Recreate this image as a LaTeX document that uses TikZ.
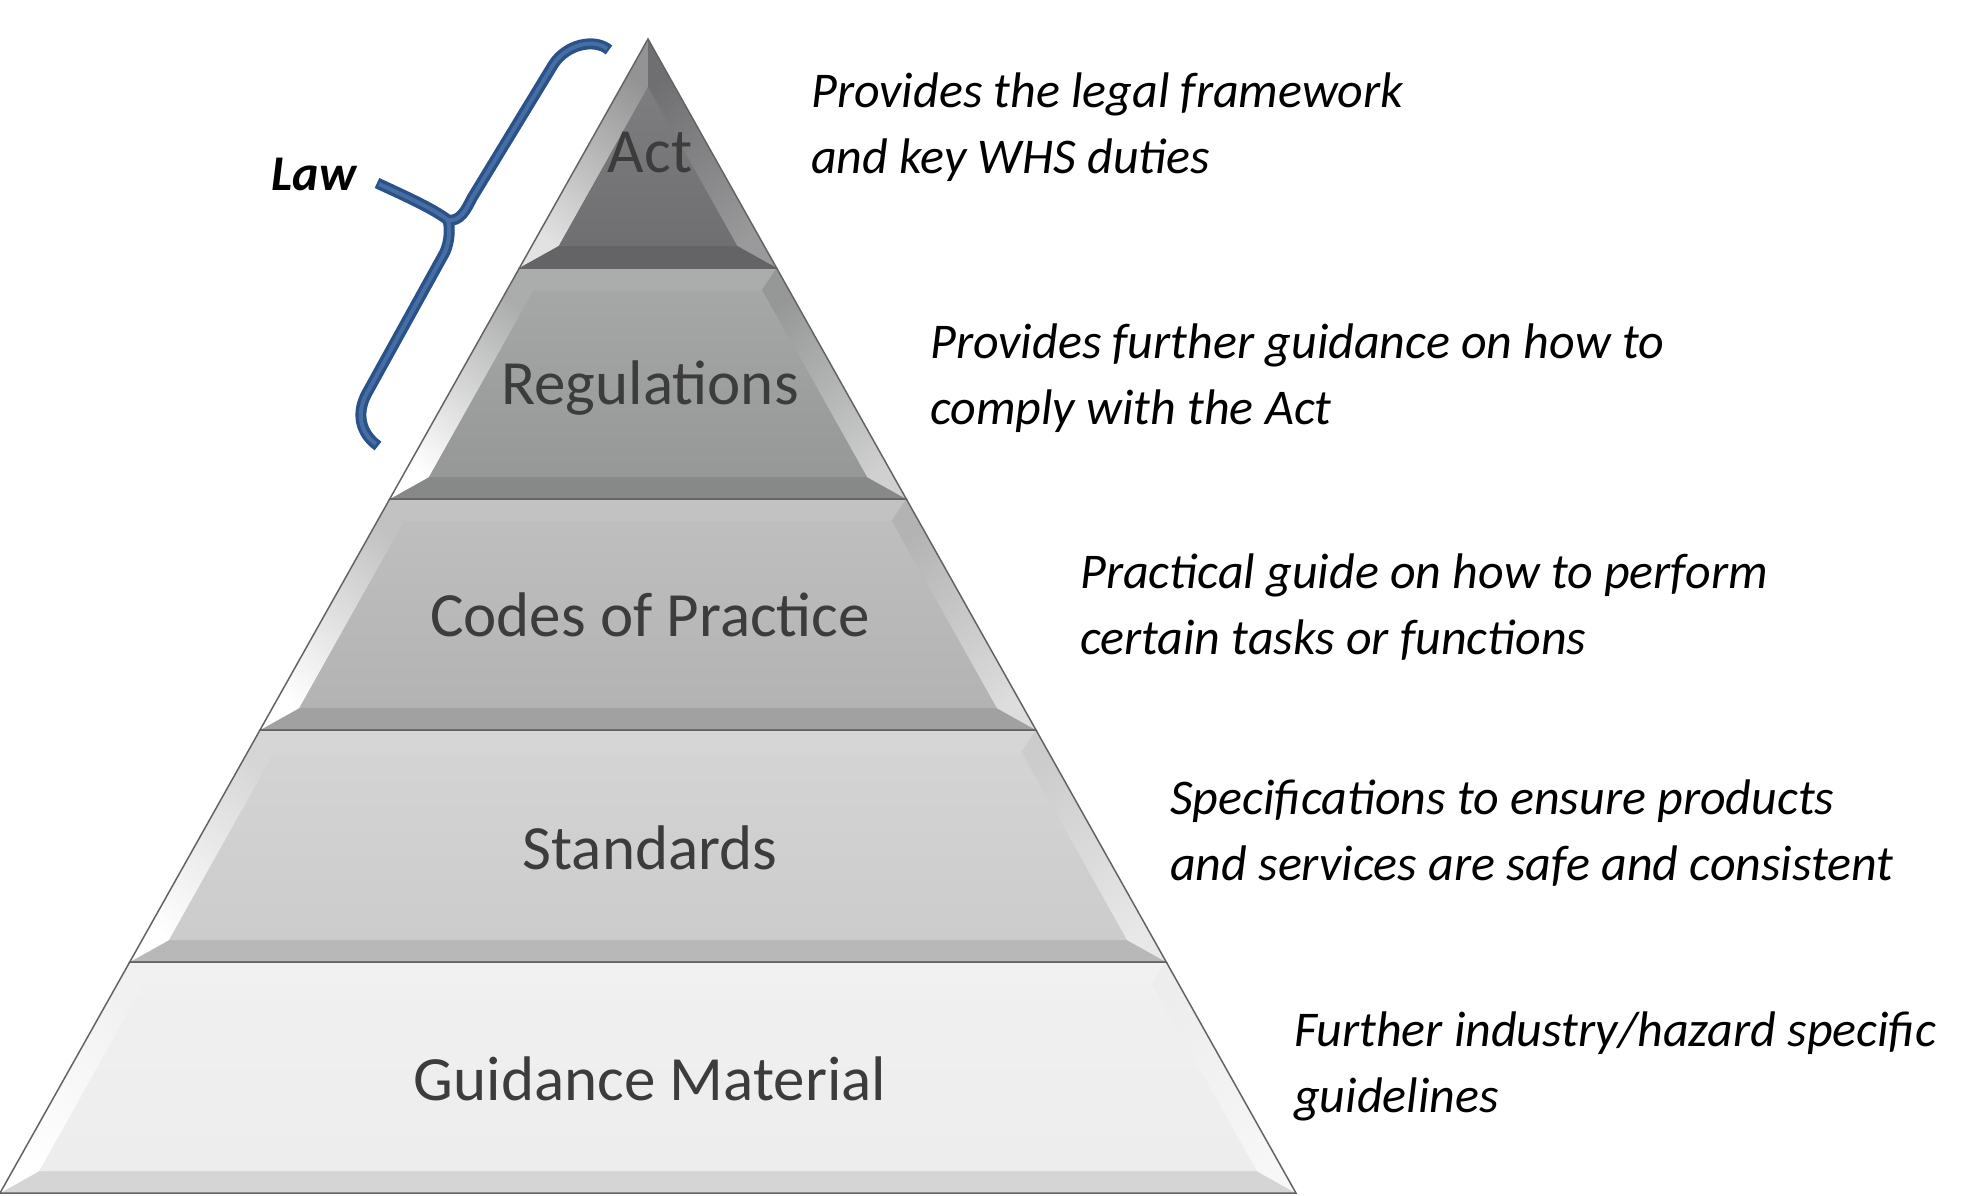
\documentclass[tikz,border=0pt]{standalone}
\usepackage{fontspec}
\setmainfont{Carlito}

\definecolor{actgray}{RGB}{111,111,113}
\definecolor{reggray}{RGB}{150,151,151}
\definecolor{codegray}{RGB}{178,179,178}
\definecolor{stdgray}{RGB}{204,204,204}
\definecolor{guidegray}{RGB}{237,237,237}
\definecolor{labelgray}{RGB}{60,60,60}
\definecolor{edgegray}{RGB}{100,100,100}
\definecolor{lawblue}{RGB}{40,82,136}
\definecolor{lawlight}{RGB}{70,110,165}

\tikzset{
	tierlabel/.style={inner sep=0, anchor=base, text=labelgray, font=\fontsize{63}{76}\selectfont},
	tiernote/.style={inner sep=0, anchor=base west, align=left, font=\fontsize{50}{66}\selectfont\itshape},
	rim/.style={draw=edgegray, line width=1.5}
}

\begin{document}
\begin{tikzpicture}[x=1pt,y=-1pt]
	
	\useasboundingbox (0,0) rectangle (1982,1195);
	
	% top tier (triangle)
	\coordinate (apex) at (648,39);
	\coordinate (aBL) at (519.4,268);
	\coordinate (aBR) at (776.6,268);
	\coordinate (iapex) at (648,87);
	\coordinate (iaBL) at (558.8,246);
	\coordinate (iaBR) at (737.2,246);
	
	\fill[actgray] (apex) -- (aBR) -- (aBL) -- cycle;
	\shade[left color=actgray!75!white, right color=actgray!20!white, shading angle=-40] (apex) -- (iapex) -- (iaBL) -- (aBL) -- cycle;
	\shade[left color=actgray, right color=actgray!70!white, shading angle=40] (apex) -- (aBR) -- (iaBR) -- (iapex) -- cycle;
	\fill[actgray!90!black] (aBL) -- (aBR) -- (iaBR) -- (iaBL) -- cycle;
	\shade[top color=actgray!90!white, bottom color=actgray] (iapex) -- (iaBR) -- (iaBL) -- cycle;
	\draw[rim] (apex) -- (aBR) -- (aBL) -- cycle;
	
	% lower tiers (trapezoids)
	\foreach \yt/\yb/\c in {268/499/reggray, 499/730/codegray, 730/962/stdgray, 962/1193/guidegray}{
		\pgfmathsetmacro\hTop{0.5615*(\yt-39)}
		\pgfmathsetmacro\hBot{0.5615*(\yb-39)}
		\pgfmathsetmacro\yit{\yt+22}
		\pgfmathsetmacro\yib{\yb-22}
		\pgfmathsetmacro\hiTop{0.5615*(\yit-39)-27}
		\pgfmathsetmacro\hiBot{0.5615*(\yib-39)-27}
		
		\coordinate (oTL) at ({648-\hTop},\yt);
		\coordinate (oTR) at ({648+\hTop},\yt);
		\coordinate (oBR) at ({648+\hBot},\yb);
		\coordinate (oBL) at ({648-\hBot},\yb);
		\coordinate (iTL) at ({648-\hiTop},\yit);
		\coordinate (iTR) at ({648+\hiTop},\yit);
		\coordinate (iBR) at ({648+\hiBot},\yib);
		\coordinate (iBL) at ({648-\hiBot},\yib);
		
		\fill[\c] (oTL) -- (oTR) -- (oBR) -- (oBL) -- cycle;
		\fill[\c!80!white] (oTL) -- (oTR) -- (iTR) -- (iTL) -- cycle;
		\fill[\c!90!black] (oBL) -- (oBR) -- (iBR) -- (iBL) -- cycle;
		\shade[left color=\c!80!white, right color=white, shading angle=-40] (oTL) -- (iTL) -- (iBL) -- (oBL) -- cycle;
		\shade[left color=\c, right color=\c!45!white, shading angle=40] (oTR) -- (oBR) -- (iBR) -- (iTR) -- cycle;
		\shade[top color=\c!85!white, bottom color=\c] (iTL) -- (iTR) -- (iBR) -- (iBL) -- cycle;
		\draw[rim] (oTL) -- (oTR) -- (oBR) -- (oBL) -- cycle;
	}
	
	% tier labels
	\node[tierlabel] (act) at (650,172) {Act};
	\node[tierlabel] (regs) at (650,404) {Regulations};
	\node[tierlabel] (codes) at (650,636) {Codes of Practice};
	\node[tierlabel] (stds) at (650,869) {Standards};
	\node[tierlabel] (guide) at (650,1100) {Guidance Material};
	
	% notes on the right
	\node[tiernote] (actnote) at (811,173) {Provides the legal framework\\and key WHS duties};
	\node[tiernote] (regsnote) at (930,424) {Provides further guidance on how to\\comply with the Act};
	\node[tiernote] (codesnote) at (1080,654) {Practical guide on how to perform\\certain tasks or functions};
	\node[tiernote] (stdsnote) at (1170,880) {Specifications to ensure products\\and services are safe and consistent};
	\node[tiernote] (guidenote) at (1294,1112) {Further industry/hazard specific\\guidelines};
	
	% law brace
	\draw[lawblue, line width=11] (377,183) .. controls (405,196) and (432,208) .. (448,220)
		.. controls (460,222) and (466,210) .. (472,198) -- (553,65) .. controls (566,44) and (595,38) .. (609,50)
		(448,220) .. controls (450,228) and (450,240) .. (445,252) -- (367,393) .. controls (356,413) and (360,433) .. (378,446);
	\draw[lawlight, line width=4] (379,184) .. controls (405,196) and (432,208) .. (448,220)
		.. controls (460,222) and (466,210) .. (472,198) -- (553,65) .. controls (566,44) and (595,38) .. (607,49)
		(448,220) .. controls (450,228) and (450,240) .. (445,252) -- (367,393) .. controls (356,413) and (360,433) .. (376,444);
	\node[inner sep=0, anchor=base, font=\fontsize{50}{60}\selectfont\bfseries\itshape] (law) at (314,190) {Law};
	
\end{tikzpicture}
\end{document}
